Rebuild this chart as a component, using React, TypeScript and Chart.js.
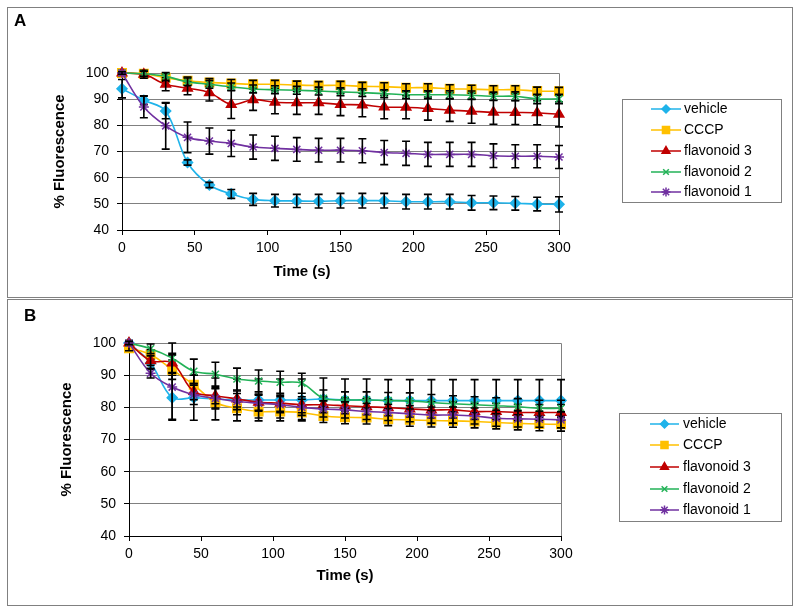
import React, { useEffect, useRef } from "react";
import { Chart, registerables } from "chart.js";
import { drawPoint } from "chart.js/helpers";

Chart.register(...registerables);

const TIME = [0, 15, 30, 45, 60, 75, 90, 105, 120, 135, 150, 165, 180, 195, 210, 225, 240, 255, 270, 285, 300];
const SERIES_NAMES = ["vehicle", "CCCP", "flavonoid 3", "flavonoid 2", "flavonoid 1"];
const Y_TICKS = { min: 40, max: 100, step: 10 };
const X_TICKS = { min: 0, max: 300, step: 50 };

// Panel A
const A_VEHICLE = [94, 89.6, 85.5, 65.8, 57.2, 53.8, 51.7, 51.2, 51.1, 51.0, 51.2, 51.2, 51.2, 50.8, 50.8, 50.8, 50.4, 50.4, 50.2, 49.9, 49.8];
const A_VEHICLE_ERR = [3.5, 1.7, 3, 1, 1, 1.7, 2.3, 2.4, 2.5, 2.6, 2.8, 2.8, 2.8, 2.8, 2.8, 2.8, 2.8, 2.6, 2.6, 2.6, 2.9];
const A_CCCP = [100, 99.7, 98.2, 97, 96.4, 96, 95.7, 95.7, 95.4, 95.2, 95.3, 94.9, 94.8, 94.4, 94.4, 94, 93.8, 93.6, 93.6, 93.1, 93];
const A_CCCP_ERR = [0.5, 1, 1.5, 1.5, 1.5, 1.5, 1.5, 1.5, 1.5, 1.5, 1.5, 1.5, 1.5, 1.5, 1.5, 1.5, 1.5, 1.5, 1.5, 1.5, 1.5];
const A_FLAV3 = [100, 99.5, 95.7, 94.2, 92.5, 88, 89.8, 88.8, 88.6, 88.6, 88, 87.8, 87, 86.9, 86.4, 85.8, 85.4, 85, 84.9, 84.8, 84.2];
const A_FLAV3_ERR = [0.5, 1.5, 2.5, 2.5, 3.2, 5.4, 4.1, 4.4, 4.4, 4.4, 4.3, 4.5, 4.5, 4.4, 4.4, 4.3, 4.6, 4.6, 4.6, 4.6, 4.8];
const A_FLAV2 = [100, 99.7, 98.7, 96.6, 95.7, 94.7, 93.9, 93.6, 93.4, 93.1, 92.8, 92.5, 92.1, 91.7, 91.7, 91.7, 91.5, 91.1, 91.1, 90.1, 90.1];
const A_FLAV2_ERR = [0.3, 1, 1.5, 1.5, 1.5, 1.5, 1.5, 1.5, 1.5, 1.5, 1.5, 1.5, 1.5, 1.5, 1.5, 1.5, 1.6, 1.6, 1.7, 1.8, 1.8];
const A_FLAV1 = [100, 87, 79.8, 75.4, 74, 73.1, 71.7, 71.2, 70.8, 70.5, 70.5, 70.3, 69.6, 69.3, 68.9, 68.9, 68.9, 68.4, 68.2, 68.2, 67.9];
const A_FLAV1_ERR = [0.5, 4.1, 8.9, 5.9, 5, 5, 4.6, 4.6, 4.5, 4.5, 4.5, 4.6, 4.6, 4.6, 4.6, 4.6, 4.6, 4.5, 4.4, 4.4, 4.4];

// Panel B
const B_VEHICLE = [100, 93.8, 83, 83, 82.6, 82.3, 82.3, 82.3, 82.3, 82.6, 82.3, 82.3, 82.1, 82.1, 82.1, 82.1, 82.1, 82.1, 82.1, 82.1, 82.1];
const B_VEHICLE_ERR = [0.5, 2, 7, 7, 6.5, 6.5, 6.5, 6.5, 6.5, 6.5, 6.5, 6.5, 6.5, 6.5, 6.5, 6.5, 6.5, 6.5, 6.5, 6.5, 6.5];
const B_CCCP = [98.4, 96.4, 91.7, 87, 81.5, 79.7, 78.7, 78.7, 78.4, 77.3, 76.9, 76.8, 76.3, 76.1, 75.9, 75.8, 75.6, 75.3, 75, 74.8, 74.7];
const B_CCCP_ERR = [0.8, 1.5, 3, 3, 2, 2, 2, 2, 2.2, 2, 2, 2, 2, 2, 2, 2, 2, 2, 2, 2.1, 2.1];
const B_FLAV3 = [100, 94.5, 93.8, 84.9, 83.6, 82.6, 81.6, 81.3, 80.8, 80.8, 80.5, 80.2, 79.9, 79.5, 79.2, 79.2, 78.7, 78.7, 78.4, 78.4, 78.4];
const B_FLAV3_ERR = [0.5, 1.5, 3, 2.5, 2.5, 2.5, 2.5, 2.5, 2.5, 2.5, 2.5, 2.5, 2.5, 2.5, 2.5, 2.5, 2.5, 2.5, 2.5, 2.5, 2.5];
const B_FLAV2 = [100, 98.2, 95.3, 91.2, 90.3, 88.8, 88.2, 87.8, 87.5, 82.8, 82.3, 82.3, 82.1, 82, 81.5, 81.1, 80.8, 80.5, 80.2, 79.7, 79.7];
const B_FLAV2_ERR = [0.5, 1.5, 4.7, 3.8, 3.7, 3.4, 3.4, 3.4, 3.1, 2.6, 2.5, 2.5, 2.5, 2.5, 2.5, 2.5, 2.5, 2.5, 2.5, 2.5, 2.5];
const B_FLAV1 = [100, 90.6, 86.3, 83.9, 82.8, 81.8, 81.3, 80.8, 80, 79.5, 79.2, 78.7, 78.4, 78, 77.6, 77.6, 77.3, 76.6, 76.4, 76.3, 76.1];
const B_FLAV1_ERR = [0.5, 1.5, 10, 3, 3, 2.5, 2.5, 2.5, 2.5, 2.5, 2.5, 2.5, 2.5, 2.5, 2.5, 2.5, 2.5, 2.5, 2.5, 2.5, 2.5];

const FONT = "'Liberation Sans', Arial, sans-serif";

const STYLES = [
  { color: "#1fb3ea", pointStyle: "rectRot", radius: 5, legendRadius: 4 },
  { color: "#ffc000", pointStyle: "rect", radius: 6, legendRadius: 5 },
  { color: "#c00000", pointStyle: "triangle", radius: 5.5, legendRadius: 4.5 },
  { color: "#22b257", pointStyle: "crossRot", radius: 5, legendRadius: 4 },
  { color: "#7030a0", pointStyle: "star", radius: 5, legendRadius: 4.5 },
];

type PanelLayout = {
  left: number; top: number; width: number; height: number;
  area: { left: number; right: number; top: number; bottom: number };
  letter: string; letterX: number; letterY: number;
  yTitleX: number; xTitleX: number; xTitleY: number;
  legend: { left: number; right: number; top: number; bottom: number; rows: number[]; lineX0: number; lineX1: number; textX: number };
};

const PANEL_A: PanelLayout = {
  left: 7, top: 7, width: 786, height: 291,
  area: { left: 115, right: 552, top: 66, bottom: 223 },
  letter: "A", letterX: 7, letterY: 14,
  yTitleX: 53, xTitleX: 295, xTitleY: 265,
  legend: { left: 615, right: 774, top: 92, bottom: 195, rows: [102, 123, 144, 165, 185], lineX0: 644, lineX1: 674, textX: 677 },
};

const PANEL_B: PanelLayout = {
  left: 7, top: 299, width: 786, height: 307,
  area: { left: 122, right: 554, top: 44, bottom: 237 },
  letter: "B", letterX: 17, letterY: 17,
  yTitleX: 60, xTitleX: 338, xTitleY: 277,
  legend: { left: 612, right: 774, top: 114, bottom: 222, rows: [125, 146, 168, 190, 211], lineX0: 643, lineX1: 672, textX: 676 },
};

const errorBarPlugin = {
  id: "errorBars",
  afterDatasetDraw(chart: any, args: any) {
    const ds = chart.data.datasets[args.index];
    const errs: number[] = ds.errors;
    if (!errs) return;
    const xs = chart.scales.x;
    const ys = chart.scales.y;
    const ctx = chart.ctx;
    ctx.save();
    ctx.strokeStyle = "#000";
    ctx.lineWidth = 1.6;
    ds.data.forEach((p: any, i: number) => {
      const e = errs[i];
      if (!e) return;
      const x = xs.getPixelForValue(p.x);
      const y1 = ys.getPixelForValue(p.y + e);
      const y2 = ys.getPixelForValue(p.y - e);
      ctx.beginPath();
      ctx.moveTo(x, y1);
      ctx.lineTo(x, y2);
      ctx.moveTo(x - 4, y1);
      ctx.lineTo(x + 4, y1);
      ctx.moveTo(x - 4, y2);
      ctx.lineTo(x + 4, y2);
      ctx.stroke();
    });
    ctx.restore();
  },
};

const framePlugin = {
  id: "frame",
  beforeDatasetsDraw(chart: any) {
    const { ctx, chartArea } = chart;
    ctx.save();
    ctx.strokeStyle = "#808080";
    ctx.lineWidth = 1;
    ctx.beginPath();
    ctx.moveTo(chartArea.left, chartArea.top + 0.5);
    ctx.lineTo(chartArea.right + 0.5, chartArea.top + 0.5);
    ctx.lineTo(chartArea.right + 0.5, chartArea.bottom);
    ctx.stroke();
    ctx.restore();
  },
};

function makeDecorPlugin(layout: PanelLayout) {
  return {
    id: "decor",
    afterDraw(chart: any) {
      const ctx = chart.ctx;
      const area = chart.chartArea;
      ctx.save();
      ctx.fillStyle = "#000";
      // Panel letter
      ctx.font = `bold 17px ${FONT}`;
      ctx.textAlign = "left";
      ctx.textBaseline = "middle";
      ctx.fillText(layout.letter, layout.letterX, layout.letterY);
      // X title
      ctx.font = `bold 15px ${FONT}`;
      ctx.textAlign = "center";
      ctx.fillText("Time (s)", layout.xTitleX, layout.xTitleY);
      // Y title
      ctx.save();
      ctx.translate(layout.yTitleX, (area.top + area.bottom) / 2);
      ctx.rotate(-Math.PI / 2);
      ctx.fillText("% Fluorescence", 0, 0);
      ctx.restore();
      // Legend
      const lg = layout.legend;
      ctx.strokeStyle = "#808080";
      ctx.lineWidth = 1;
      ctx.strokeRect(lg.left + 0.5, lg.top + 0.5, lg.right - lg.left, lg.bottom - lg.top);
      chart.data.datasets.forEach((ds: any, i: number) => {
        const y = lg.rows[i];
        const st = STYLES[i];
        ctx.strokeStyle = st.color;
        ctx.fillStyle = st.color;
        ctx.lineWidth = 1.5;
        ctx.beginPath();
        ctx.moveTo(lg.lineX0, y);
        ctx.lineTo(lg.lineX1, y);
        ctx.stroke();
        drawPoint(ctx, { pointStyle: st.pointStyle, radius: st.legendRadius, rotation: 0, borderWidth: 1.5 } as any, (lg.lineX0 + lg.lineX1) / 2, y);
        ctx.fillStyle = "#000";
        ctx.font = `14px ${FONT}`;
        ctx.textAlign = "left";
        ctx.textBaseline = "middle";
        ctx.fillText(ds.label, lg.textX, y + 0.5);
      });
      ctx.restore();
    },
  };
}

function buildDatasets(values: number[][], errs: number[][]) {
  return values.map((vals, i) => {
    const st = STYLES[i];
    return {
      label: SERIES_NAMES[i],
      data: TIME.map((t, j) => ({ x: t, y: vals[j] })),
      errors: errs[i],
      borderColor: st.color,
      backgroundColor: st.color,
      pointBackgroundColor: st.color,
      pointBorderColor: st.color,
      pointStyle: st.pointStyle,
      pointRadius: st.radius,
      pointBorderWidth: 1.5,
      borderWidth: 1.6,
      tension: 0.35,
      clip: false,
      order: 5 - i,
    };
  });
}

function makeConfig(layout: PanelLayout, values: number[][], errs: number[][]): any {
  const a = layout.area;
  return {
    type: "line",
    data: { datasets: buildDatasets(values, errs) },
    options: {
      animation: false,
      responsive: false,
      devicePixelRatio: 1,
      events: [],
      layout: {
        autoPadding: false,
        padding: { top: a.top, right: layout.width - a.right, bottom: 0, left: 0 },
      },
      plugins: { legend: { display: false }, tooltip: { enabled: false } },
      scales: {
        x: {
          type: "linear",
          min: X_TICKS.min,
          max: X_TICKS.max,
          ticks: { stepSize: X_TICKS.step, color: "#000", font: { family: FONT, size: 14 }, padding: 5, maxRotation: 0 },
          grid: { drawOnChartArea: false, drawTicks: true, tickLength: 5, color: "#000", tickColor: "#000" },
          border: { color: "#000", width: 1 },
          afterFit: (s: any) => { s.height = layout.height - a.bottom; },
        },
        y: {
          type: "linear",
          min: Y_TICKS.min,
          max: Y_TICKS.max,
          ticks: { stepSize: Y_TICKS.step, color: "#000", font: { family: FONT, size: 14 }, padding: 8 },
          grid: { color: "#808080", tickColor: "#000", tickLength: 5, lineWidth: 1 },
          border: { color: "#000", width: 1 },
          afterFit: (s: any) => { s.width = a.left; },
        },
      },
    },
    plugins: [framePlugin, errorBarPlugin, makeDecorPlugin(layout)],
  };
}

function Panel({ layout, values, errs }: { layout: PanelLayout; values: number[][]; errs: number[][] }) {
  const ref = useRef<HTMLCanvasElement | null>(null);
  useEffect(() => {
    if (!ref.current) return;
    const chart = new Chart(ref.current, makeConfig(layout, values, errs));
    return () => chart.destroy();
  }, []);
  return (
    <>
      <div
        style={{
          position: "absolute",
          left: layout.left,
          top: layout.top,
          width: layout.width,
          height: layout.height,
          border: "1px solid #808080",
          boxSizing: "border-box",
          background: "#fff",
        }}
      />
      <canvas
        ref={ref}
        width={layout.width}
        height={layout.height}
        style={{ position: "absolute", left: layout.left, top: layout.top, width: layout.width, height: layout.height, display: "block" }}
      />
    </>
  );
}

export default function App() {
  return (
    <div style={{ position: "absolute", left: 0, top: 0, width: 800, height: 613, background: "#fff" }}>
      <Panel
        layout={PANEL_A}
        values={[A_VEHICLE, A_CCCP, A_FLAV3, A_FLAV2, A_FLAV1]}
        errs={[A_VEHICLE_ERR, A_CCCP_ERR, A_FLAV3_ERR, A_FLAV2_ERR, A_FLAV1_ERR]}
      />
      <Panel
        layout={PANEL_B}
        values={[B_VEHICLE, B_CCCP, B_FLAV3, B_FLAV2, B_FLAV1]}
        errs={[B_VEHICLE_ERR, B_CCCP_ERR, B_FLAV3_ERR, B_FLAV2_ERR, B_FLAV1_ERR]}
      />
    </div>
  );
}
